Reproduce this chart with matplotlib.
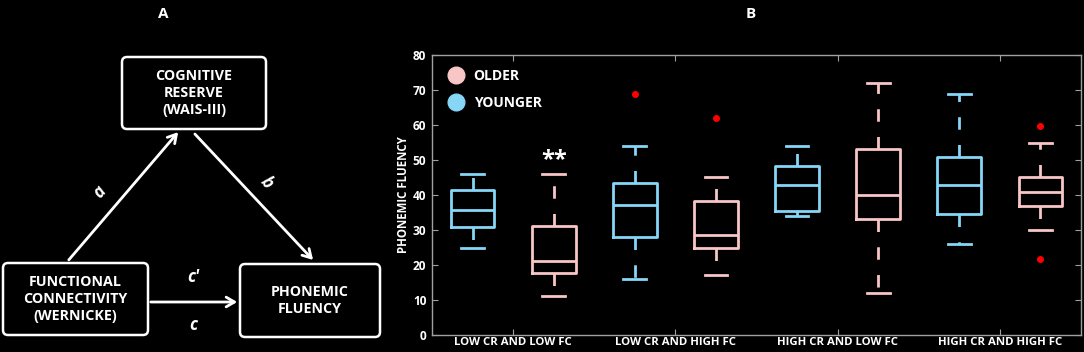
import matplotlib.pyplot as plt
from matplotlib.patches import FancyBboxPatch
from matplotlib.lines import Line2D

plt.rcParams["font.family"] = ["Open Sans", "DejaVu Sans"]

# Panel B data
groups = ["LOW CR AND LOW FC", "LOW CR AND HIGH FC", "HIGH CR AND LOW FC", "HIGH CR AND HIGH FC"]

young_whislo = [25.0, 16.1, 34.0, 26.0]
young_q1 = [30.8, 28.0, 35.4, 34.6]
young_med = [35.7, 37.1, 43.0, 43.0]
young_q3 = [41.3, 43.3, 48.2, 50.9]
young_whishi = [46.0, 54.1, 54.0, 69.0]
young_fliers = [[], [69.0], [], []]

old_whislo = [11.2, 17.2, 12.0, 30.1]
old_q1 = [17.8, 24.9, 33.2, 36.8]
old_med = [21.1, 28.7, 39.9, 41.0]
old_q3 = [31.2, 38.4, 53.2, 45.2]
old_whishi = [46.0, 45.1, 71.9, 55.0]
old_fliers = [[], [61.9], [], [59.8, 21.8]]

BLUE = "#86d6f7"
PINK = "#f8c6c6"
BG = "black"

fig = plt.figure(figsize=(10.84, 3.52), dpi=100, facecolor=BG)

# ---------------- Panel A: mediation diagram ----------------
axa = fig.add_axes([0, 0, 385 / 1084, 1])
axa.set_xlim(0, 385)
axa.set_ylim(352, 0)
axa.axis("off")
axa.set_facecolor(BG)

boxes = [
    (122, 57, 144, 72, "COGNITIVE\nRESERVE\n(WAIS-III)"),
    (3, 263, 145, 72, "FUNCTIONAL\nCONNECTIVITY\n(WERNICKE)"),
    (240, 264, 140, 73, "PHONEMIC\nFLUENCY"),
]
for x, y, w, h, label in boxes:
    axa.add_patch(FancyBboxPatch((x + 5, y + 5), w - 10, h - 10,
                                 boxstyle="round,pad=5", fc=BG, ec="white", lw=1.8))
    axa.text(x + w / 2, y + h / 2, label, color="white", ha="center", va="center",
             fontsize=10.3, fontweight="bold", linespacing=1.25)

arrows = [((67, 262), (180, 130)), ((193, 132), (315, 262)), ((148, 302), (240, 302))]
for start, end in arrows:
    axa.annotate("", xy=end, xytext=start,
                 arrowprops=dict(arrowstyle="->,head_length=0.6,head_width=0.35",
                                 color="white", lw=2))

axa.text(100, 192, "a", color="white", fontsize=12, fontweight="bold",
         style="italic", rotation=50, ha="center", va="center")
axa.text(267, 183, "b", color="white", fontsize=12, fontweight="bold",
         style="italic", rotation=-50, ha="center", va="center")
axa.text(193, 277, "c\u2032", color="white", fontsize=12, fontweight="bold",
         style="italic", ha="center", va="center")
axa.text(193, 325, "c", color="white", fontsize=12, fontweight="bold",
         style="italic", ha="center", va="center")
axa.text(163, 14, "A", color="white", fontsize=11, fontweight="bold",
         ha="center", va="center")

# ---------------- Panel B: box plots ----------------
axb = fig.add_axes([432 / 1084, 17 / 352, 649 / 1084, 280 / 352])
axb.set_facecolor(BG)
fig.text(751 / 1084, 1 - 14 / 352, "B", color="white", fontsize=11,
         fontweight="bold", ha="center", va="center")


def make_stats(lo, q1, med, q3, hi, fl):
    return [dict(whislo=a, q1=b, med=c, q3=d, whishi=e, fliers=f)
            for a, b, c, d, e, f in zip(lo, q1, med, q3, hi, fl)]


positions = [1, 2, 3, 4]
for stats, offset, color in [
    (make_stats(young_whislo, young_q1, young_med, young_q3, young_whishi, young_fliers), -0.25, BLUE),
    (make_stats(old_whislo, old_q1, old_med, old_q3, old_whishi, old_fliers), 0.25, PINK),
]:
    axb.bxp(stats, positions=[p + offset for p in positions], widths=0.27,
            showfliers=True,
            boxprops=dict(color=color, lw=2),
            medianprops=dict(color=color, lw=2),
            whiskerprops=dict(color=color, lw=2, linestyle=(0, (4.5, 5.5))),
            capprops=dict(color=color, lw=2),
            flierprops=dict(marker="o", markersize=4, markerfacecolor="red",
                            markeredgecolor="red"),
            capwidths=0.14)

axb.text(1.25, 46.5, "**", color="white", fontsize=17, fontweight="bold",
         ha="center", va="bottom")

axb.set_xlim(0.5, 4.5)
axb.set_ylim(0, 80)
axb.set_xticks(positions)
axb.set_xticklabels(groups)
axb.set_yticks(range(0, 81, 10))
axb.set_ylabel("PHONEMIC FLUENCY", color="white", fontsize=8.3, fontweight="bold",
               labelpad=2)
axb.tick_params(axis="both", direction="in", colors="#a0a0a0", labelcolor="white",
                labelsize=8.6, length=4, top=True, right=True, pad=4)
axb.tick_params(axis="x", labelsize=8.2, pad=1.5)
for lab in axb.get_xticklabels() + axb.get_yticklabels():
    lab.set_fontweight("bold")
for sp in axb.spines.values():
    sp.set_color("#a0a0a0")
    sp.set_linewidth(1)

handles = [
    Line2D([], [], marker="o", linestyle="none", markersize=12,
           markerfacecolor=PINK, markeredgecolor=PINK, label="OLDER"),
    Line2D([], [], marker="o", linestyle="none", markersize=12,
           markerfacecolor=BLUE, markeredgecolor=BLUE, label="YOUNGER"),
]
axb.legend(handles=handles, loc="upper left", bbox_to_anchor=(0.0, 0.985),
           frameon=False, labelcolor="white",
           prop=dict(weight="bold", size=10), handletextpad=0.3,
           borderaxespad=0.3, labelspacing=0.95)

fig.savefig("out.png", dpi=100, facecolor=BG)
